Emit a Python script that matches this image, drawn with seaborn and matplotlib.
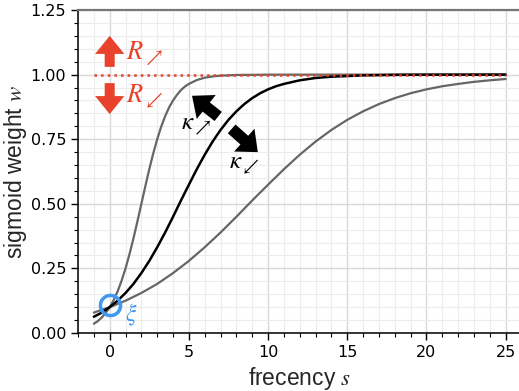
import matplotlib
matplotlib.use("Agg")
import matplotlib.pyplot as plt
from matplotlib.ticker import MultipleLocator, FormatStrFormatter
import seaborn as sns
import pandas as pd

# values
s_fast = [-1, -0.75, -0.5, -0.25, 0, 0.25, 0.5, 0.75, 1.0, 1.25, 1.5, 1.75, 2.0,
          2.25, 2.5, 2.75, 3.0, 3.25, 3.5, 3.75, 4.0, 4.25, 4.5, 4.75, 5.0, 5.5,
          6.0, 6.5, 7.0, 8, 10, 15, 20, 25]
w_fast = [0.036, 0.046, 0.060, 0.078, 0.100, 0.127, 0.161, 0.202, 0.250, 0.305,
          0.366, 0.432, 0.500, 0.568, 0.634, 0.695, 0.750, 0.798, 0.839, 0.873,
          0.900, 0.922, 0.940, 0.954, 0.964, 0.979, 0.988, 0.993, 0.996, 0.9986,
          0.9998, 1.0, 1.0, 1.0]

s_mid = [-1, -0.5, 0, 0.5, 1, 1.5, 2, 2.5, 3, 3.5, 4, 4.5, 5, 5.5, 6, 6.5, 7,
         7.5, 8, 8.5, 9, 9.5, 10, 10.5, 11, 12, 13, 14, 16, 18, 20, 25]
w_mid = [0.063, 0.079, 0.100, 0.125, 0.155, 0.190, 0.232, 0.279, 0.332, 0.389,
         0.450, 0.513, 0.574, 0.634, 0.690, 0.741, 0.786, 0.825, 0.858, 0.886,
         0.909, 0.928, 0.943, 0.955, 0.964, 0.978, 0.987, 0.992, 0.997, 0.999,
         0.9996, 1.0]

s_slow = list(range(-1, 26))
w_slow = [0.079, 0.100, 0.125, 0.155, 0.190, 0.232, 0.279, 0.332, 0.389, 0.450,
          0.513, 0.574, 0.634, 0.690, 0.741, 0.786, 0.825, 0.858, 0.886, 0.909,
          0.928, 0.943, 0.955, 0.964, 0.972, 0.978, 0.983]

R_level = 1.0
xi_point = (0.05, 0.11)

red = "#e8412c"
blue = "#3f98f2"
gray = "#666666"

sns.set_theme(style="ticks")
plt.rcParams["font.family"] = ["DejaVu Sans"]
plt.rcParams["mathtext.fontset"] = "stix"

fig = plt.figure(figsize=(5.19, 3.91), dpi=100)
ax = fig.add_axes([0.1503, 0.1483, 0.8546, 0.8261])

df_fast = pd.DataFrame({"s": s_fast, "w": w_fast})
df_mid = pd.DataFrame({"s": s_mid, "w": w_mid})
df_slow = pd.DataFrame({"s": s_slow, "w": w_slow})

sns.lineplot(data=df_fast, x="s", y="w", ax=ax, color=gray, lw=1.6, zorder=3)
sns.lineplot(data=df_slow, x="s", y="w", ax=ax, color=gray, lw=1.6, zorder=3)
sns.lineplot(data=df_mid, x="s", y="w", ax=ax, color="black", lw=1.8, zorder=4)

ax.plot([-1, 25], [R_level, R_level], ls=":", color=red, lw=1.8, zorder=5)

# red arrows for R
red_arrow = dict(arrowstyle="simple,head_length=0.65,head_width=1.05,tail_width=0.36",
                 color=red, mutation_scale=20, shrinkA=0, shrinkB=0, lw=0)
ax.annotate("", xy=(0.0, 1.15), xytext=(0.0, 1.03), arrowprops=red_arrow)
ax.annotate("", xy=(0.0, 0.847), xytext=(0.0, 0.967), arrowprops=red_arrow)
ax.text(1.0, 1.08, r"$R_{\nearrow}$", color=red, fontsize=19, va="center", ha="left")
ax.text(1.0, 0.915, r"$R_{\swarrow}$", color=red, fontsize=19, va="center", ha="left")

# black arrows for kappa
blk_arrow = dict(arrowstyle="simple,head_length=0.65,head_width=1.1,tail_width=0.42",
                 color="black", mutation_scale=20, shrinkA=0, shrinkB=0, lw=0)
ax.annotate("", xy=(5.2, 0.918), xytext=(6.85, 0.838), arrowprops=blk_arrow)
ax.annotate("", xy=(9.35, 0.70), xytext=(7.7, 0.79), arrowprops=blk_arrow)
ax.text(5.5, 0.805, r"$\kappa_{\nearrow}$", color="black", fontsize=18, va="center", ha="center")
ax.text(8.5, 0.655, r"$\kappa_{\swarrow}$", color="black", fontsize=18, va="center", ha="center")

# xi marker
ax.plot([xi_point[0]], [xi_point[1]], marker="o", ms=14.5, mfc="none", mec=blue,
        mew=2.5, zorder=6)
ax.text(0.95, 0.072, r"$\xi$", color=blue, fontsize=17, va="center", ha="left")

ax.set_xlim(-2, 26)
ax.set_ylim(0, 1.25)
ax.xaxis.set_major_locator(MultipleLocator(5))
ax.xaxis.set_minor_locator(MultipleLocator(1))
ax.yaxis.set_major_locator(MultipleLocator(0.25))
ax.yaxis.set_minor_locator(MultipleLocator(0.05))
ax.yaxis.set_major_formatter(FormatStrFormatter("%.2f"))

ax.set_axisbelow(True)
ax.grid(which="major", color="#d8d8d8", lw=1.0)
ax.grid(which="minor", color="#ececec", lw=0.8)

ax.tick_params(which="major", direction="out", length=5, width=1, labelsize=11.5,
               color="black", labelcolor="black")
ax.tick_params(which="minor", direction="out", length=3, width=0.8, color="black")

for side in ["left", "bottom"]:
    ax.spines[side].set_color("black")
    ax.spines[side].set_linewidth(1.1)
ax.spines["top"].set_color("#777777")
ax.spines["top"].set_linewidth(1.6)
ax.spines["right"].set_visible(False)

ax.set_xlabel(r"frecency $s$", fontsize=16.5, family="Liberation Sans")
ax.set_ylabel(r"sigmoid weight $w$", fontsize=16.5, family="Liberation Sans", labelpad=1)

fig.savefig("out.png", dpi=100)
